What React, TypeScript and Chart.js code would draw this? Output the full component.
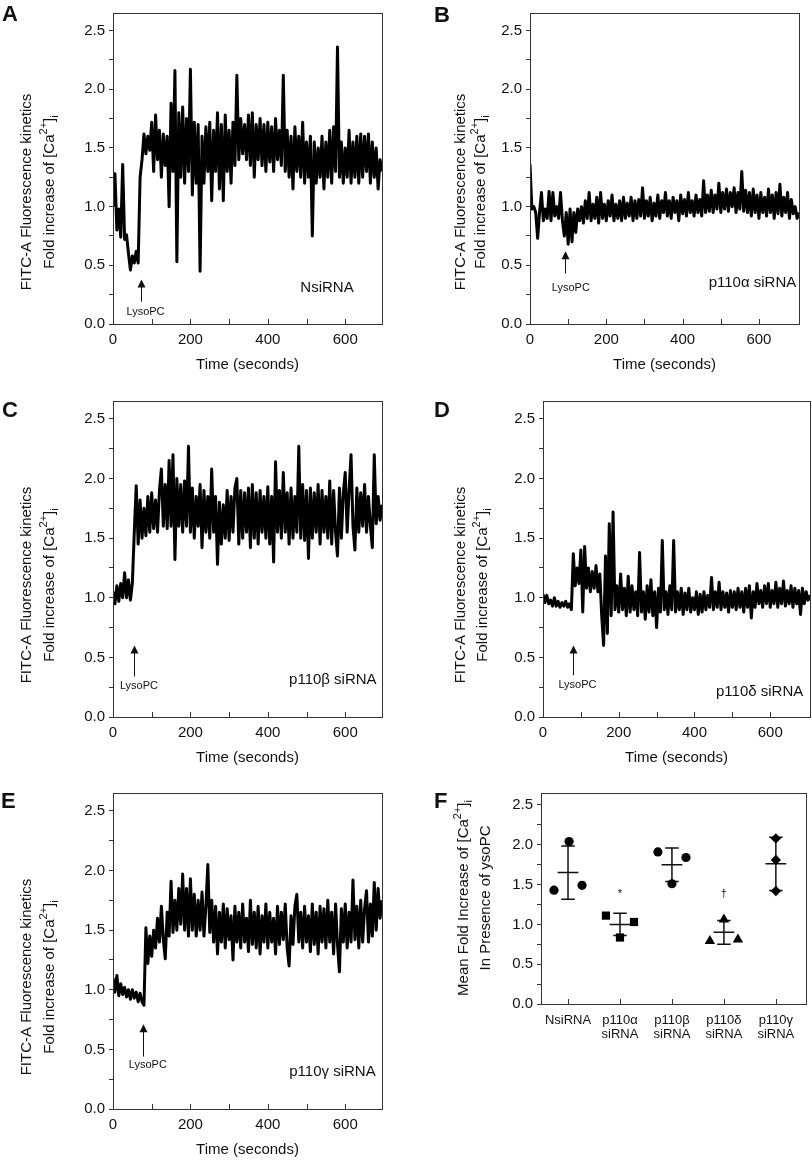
import React, { useEffect, useRef } from 'react';
import { Chart, registerables } from 'chart.js';

Chart.register(...registerables);

// ---------------- DATA ----------------
const SAMPLE_STEP_S = 5;
const TIME_TICKS = [0, 100, 200, 300, 400, 500, 600];
const TIME_TICK_LABELS = [0, 200, 400, 600];
const Y_TICKS = [0, 0.25, 0.5, 0.75, 1, 1.25, 1.5, 1.75, 2, 2.25, 2.5];
const Y_TICK_LABELS = [0, 0.5, 1, 1.5, 2, 2.5];

// Panel A – NsiRNA, fold increase sampled every 5 s from t = 0
const NSI_TRACE = [
  1.0, 1.28, 0.8, 0.98, 0.74, 1.36, 0.72, 0.76, 0.6, 0.46,
  0.58, 0.52, 0.62, 0.52, 1.25, 1.4, 1.62, 1.45, 1.6, 1.48,
  1.72, 1.3, 1.78, 1.4, 1.65, 1.25, 1.62, 1.35, 1.6, 1.0,
  1.88, 1.3, 2.16, 0.53, 1.8, 1.25, 1.85, 1.2, 1.75, 1.3,
  2.17, 1.1, 1.72, 1.2, 1.7, 0.45, 1.6, 1.2, 1.68, 1.3,
  1.72, 1.05, 1.65, 1.3, 1.8, 1.15, 1.7, 1.05, 1.78, 1.3,
  1.65, 1.2, 1.72, 1.35, 2.12, 1.4, 1.75, 1.45, 1.7, 1.4,
  1.78, 1.35, 1.8, 1.25, 1.7, 1.4, 1.75, 1.35, 1.7, 1.3,
  1.72, 1.38, 1.68, 1.3, 1.75, 1.4, 1.65, 1.35, 2.12, 1.3,
  1.65, 1.25, 1.6, 1.15, 1.68, 1.3, 1.6, 1.25, 1.72, 1.2,
  1.55, 1.25, 1.6, 0.75, 1.55, 1.2, 1.5, 1.25, 1.6, 1.15,
  1.55, 1.25, 1.65, 1.2, 1.68, 1.3, 2.36, 1.25, 1.55, 1.2,
  1.5, 1.25, 1.65, 1.2, 1.55, 1.25, 1.6, 1.2, 1.62, 1.25,
  1.6, 1.3, 1.62, 1.2, 1.55, 1.25, 1.5, 1.15, 1.4, 1.3,
];

// Panel B – p110α siRNA
const P110A_TRACE = [
  1.36, 0.98, 1.0, 0.95, 0.73, 0.95, 1.12, 0.88, 0.98, 0.9,
  1.13, 0.88, 1.12, 0.92, 1.0, 0.9, 1.12, 0.88, 0.75, 0.95,
  0.68, 0.98, 0.7, 0.95, 0.78, 0.98, 0.88, 1.0, 0.86, 1.05,
  0.9, 1.12, 0.88, 1.02, 0.9, 1.08, 0.86, 1.12, 0.9, 1.02,
  0.88, 1.05, 0.92, 1.1, 0.88, 1.02, 0.9, 1.05, 0.88, 1.08,
  0.9, 1.03, 0.92, 1.08, 0.88, 1.05, 0.9, 1.06, 0.92, 1.16,
  0.9, 1.05, 0.92, 1.08, 0.88, 1.03, 0.92, 1.1, 0.9, 1.05,
  0.95, 1.12, 0.92, 1.05, 0.9, 1.08, 0.95, 1.05, 0.88, 1.1,
  0.94, 1.06, 0.92, 1.12, 0.95, 1.05, 0.92, 1.1, 0.95, 1.06,
  0.92, 1.22, 0.95, 1.1, 0.96, 1.14, 0.95, 1.1, 0.98, 1.2,
  0.95, 1.12, 0.98, 1.15, 0.96, 1.12, 1.0, 1.16, 0.95, 1.12,
  0.98, 1.3, 0.96, 1.14, 0.95, 1.12, 0.92, 1.15, 0.95, 1.1,
  0.9, 1.12, 0.95, 1.08, 0.92, 1.15, 0.95, 1.1, 0.9, 1.12,
  0.94, 1.19, 0.92, 1.08, 0.95, 1.12, 0.9, 1.06, 0.94, 1.0,
  0.9, 0.95,
];

// Panel C – p110β siRNA
const P110B_TRACE = [
  1.05, 0.95, 1.1, 0.97, 1.12, 1.0, 1.21, 1.0, 1.15, 0.98,
  1.12, 1.55, 1.94, 1.45, 1.82, 1.5, 1.75, 1.52, 1.85, 1.55,
  1.88, 1.58, 1.82, 1.55, 1.9, 2.08, 1.6, 1.95, 1.58, 2.15,
  1.6, 2.2, 1.32, 2.0, 1.6, 1.95, 1.55, 1.98, 1.6, 2.27,
  1.55, 1.92, 1.5, 1.85, 1.6, 1.95, 1.42, 1.9, 1.55, 1.85,
  1.5, 2.08, 1.55, 1.85, 1.28, 1.8, 1.45, 1.78, 1.5, 1.9,
  1.48, 1.85, 1.55, 1.92, 2.0, 1.45, 1.9, 1.5, 1.88, 1.55,
  1.92, 1.42, 1.95, 1.5, 1.88, 1.45, 1.9, 1.55, 1.85, 1.5,
  1.93, 1.45, 1.85, 1.3, 2.14, 1.55, 1.9, 1.5, 2.05, 1.55,
  1.88, 1.45, 1.92, 1.5, 1.85, 1.55, 2.27, 1.5, 1.95, 1.48,
  1.9, 1.33, 1.92, 1.5, 1.88, 1.55, 1.95, 1.45, 1.9, 1.55,
  1.85, 1.5, 1.98, 1.45, 1.9, 1.55, 1.35, 1.92, 1.5, 1.88,
  2.05, 1.55, 1.9, 2.2, 1.6, 1.4, 1.92, 1.55, 1.88, 1.6,
  1.95, 1.55, 1.85, 1.6, 1.42, 2.2, 1.62, 1.85, 1.65, 1.78,
];

// Panel D – p110δ siRNA
const P110D_TRACE = [
  1.03, 0.96, 1.02, 0.95, 0.98, 0.93, 1.0, 0.93, 0.97, 0.92,
  0.96, 0.93, 0.97, 0.92, 0.95, 0.9, 1.37, 1.1, 1.25, 1.12,
  1.4, 0.88, 1.43, 1.08, 1.25, 1.05, 1.22, 1.08, 1.27, 1.05,
  1.2, 0.85, 0.6, 1.35, 0.7, 1.62, 0.85, 1.72, 0.9, 1.1,
  0.88, 1.2, 0.9, 1.08, 0.85, 1.18, 0.88, 1.1, 0.9, 1.05,
  0.85, 1.38, 0.88, 1.05, 0.82, 1.1, 0.88, 1.15, 0.85, 1.05,
  0.75, 1.08, 0.88, 1.48, 0.9, 1.05, 0.86, 1.1, 0.9, 1.48,
  0.88, 1.05, 0.9, 1.08, 0.86, 1.04, 0.9, 1.08, 0.88, 1.0,
  0.9, 1.05, 0.86, 1.03, 0.88, 1.05, 0.9, 1.02, 0.92, 1.17,
  0.9, 1.05, 0.92, 1.13, 0.9, 1.05, 0.92, 1.04, 0.88, 1.06,
  0.92, 1.05, 0.9, 1.08, 0.92, 1.05, 0.88, 1.08, 0.92, 1.1,
  0.83, 1.05, 0.92, 1.12, 0.95, 1.06, 0.92, 1.1, 0.95, 1.12,
  0.92, 1.06, 0.95, 1.13, 0.92, 1.08, 0.95, 1.14, 0.93, 1.06,
  0.95, 1.1, 0.92, 1.08, 0.95, 1.06, 0.86, 1.08, 0.95, 1.05,
  0.98, 1.02,
];

// Panel E – p110γ siRNA
const P110G_TRACE = [
  1.1, 0.98, 1.12, 0.95, 1.05, 0.96, 1.02, 0.94, 1.0, 0.92,
  1.0, 0.93, 0.98, 0.9, 0.97, 0.9, 0.87, 1.52, 1.22, 1.45,
  1.28, 1.5, 1.35, 1.6, 1.4, 1.7, 1.42, 1.26, 1.65, 1.45,
  1.91, 1.48, 1.75, 1.5, 1.85, 1.55, 1.97, 1.5, 1.85, 1.45,
  1.93, 1.5, 1.8, 1.45, 1.75, 1.5, 1.82, 1.45, 1.7, 2.05,
  1.48, 1.75, 1.4, 1.7, 1.3, 1.65, 1.4, 1.72, 1.35, 1.68,
  1.42, 1.62, 1.25, 1.7, 1.4, 1.65, 1.35, 1.72, 1.4, 1.6,
  1.32, 1.75, 1.38, 1.65, 1.35, 1.7, 1.3, 1.62, 1.4, 1.72,
  1.35, 1.65, 1.4, 1.6, 1.3, 1.7, 1.38, 1.65, 1.42, 1.72,
  1.35, 1.2, 1.62, 1.38, 1.7, 1.8, 1.4, 1.65, 1.35, 1.7,
  1.4, 1.62, 1.32, 1.72, 1.38, 1.65, 1.3, 1.7, 1.4, 1.68,
  1.35, 1.75, 1.4, 1.65, 1.3, 1.72, 1.38, 1.15, 1.68, 1.4,
  1.72, 1.35, 1.65, 1.4, 1.92, 1.42, 1.7, 1.35, 1.75, 1.4,
  1.68, 1.83, 1.4, 1.72, 1.45, 1.9, 1.5, 1.85, 1.6, 1.75,
];

// Panel F – mean fold increase per siRNA (3 replicates each)
const F_CATEGORIES = ['NsiRNA', 'p110α siRNA', 'p110β siRNA', 'p110δ siRNA', 'p110γ siRNA'];
const F_TICK_LABELS = [['NsiRNA'], ['p110α', 'siRNA'], ['p110β', 'siRNA'], ['p110δ', 'siRNA'], ['p110γ', 'siRNA']];
const F_NSI = [1.43, 2.04, 1.49];
const F_ALPHA = [1.11, 0.835, 1.03];
const F_BETA = [1.91, 1.51, 1.84];
const F_DELTA = [0.79, 1.06, 0.81];
const F_GAMMA = [2.08, 1.81, 1.42];
const F_MEAN = [1.65, 1.0, 1.75, 0.9, 1.76];
const F_SD = [0.335, 0.14, 0.21, 0.15, 0.335];
const F_MARKS = ['', '*', '', '†', ''];

// ---------------- STYLE / LAYOUT ----------------
const PAGE_W = 812;
const PAGE_H = 1161;
const FONT = '"Liberation Sans", Arial, Helvetica, sans-serif';
const INK = '#111';
const AXIS = '#333';
const Y_W = 40;
const X_H = 40;
const Y_MAX = 2.65;
const TRACE_WIDTH = 3.0;

type Run = { text: string; kind?: 'sup' | 'sub' };
const Y_TITLE_TRACE: Run[][] = [
  [{ text: 'FITC-A Fluorescence kinetics' }],
  [{ text: 'Fold increase of [Ca' }, { text: '2+', kind: 'sup' }, { text: ']' }, { text: 'i', kind: 'sub' }],
];
const Y_TITLE_F: Run[][] = [
  [{ text: 'Mean Fold Increase of [Ca' }, { text: '2+', kind: 'sup' }, { text: ']' }, { text: 'i', kind: 'sub' }],
  [{ text: 'In Presence of ysoPC' }],
];

const TRACE_PANELS = [
  { letter: 'A', letterPos: [2, 21], box: { l: 113, t: 8, r: 382, b: 324 }, xMax: 695, values: NSI_TRACE,
    condition: 'NsiRNA', condPos: [553, 0.31], arrow: { t: 73, tip: 0.38, tail: 0.19 }, lyso: [84, 0.1],
    yTitleX: [27, 50], yTitleCY: 192 },
  { letter: 'B', letterPos: [434, 22], box: { l: 530, t: 8, r: 799, b: 324 }, xMax: 705, values: P110A_TRACE,
    condition: 'p110α siRNA', condPos: [583, 0.35], arrow: { t: 93, tip: 0.62, tail: 0.43 }, lyso: [107, 0.31],
    yTitleX: [461, 481], yTitleCY: 192 },
  { letter: 'C', letterPos: [2, 417], box: { l: 113, t: 401, r: 382, b: 717 }, xMax: 695, values: P110B_TRACE,
    condition: 'p110β siRNA', condPos: [568, 0.31], arrow: { t: 55, tip: 0.6, tail: 0.34 }, lyso: [67, 0.26],
    yTitleX: [27, 50], yTitleCY: 585 },
  { letter: 'D', letterPos: [434, 417], box: { l: 543, t: 401, r: 810, b: 717 }, xMax: 705, values: P110D_TRACE,
    condition: 'p110δ siRNA', condPos: [572, 0.21], arrow: { t: 78, tip: 0.6, tail: 0.35 }, lyso: [91, 0.27],
    yTitleX: [461, 483], yTitleCY: 585 },
  { letter: 'E', letterPos: [1, 808], box: { l: 113, t: 793, r: 382, b: 1109 }, xMax: 695, values: P110G_TRACE,
    condition: 'p110γ siRNA', condPos: [567, 0.31], arrow: { t: 78, tip: 0.71, tail: 0.44 }, lyso: [90, 0.37],
    yTitleX: [27, 50], yTitleCY: 977 },
];

const F_PANEL = { letter: 'F', letterPos: [434, 808], box: { l: 541, t: 793, r: 809, b: 1004 },
  yTitleX: [464, 486], yTitleCY: 898 };
const F_X_MIN = -0.52;
const F_X_MAX = 4.58;
const F_JITTER = [[-0.27, 0.02, 0.27], [-0.27, 0, 0.27], [-0.27, 0, 0.27], [-0.27, 0, 0.27], [0, 0, 0]];
const F_STYLES = ['circle', 'rect', 'circle', 'triangle', 'rectRot'];
const F_RADII = [4.6, 5.8, 4.6, 6, 5.2];
const F_MEAN_HALF = 0.2;
const F_CAP_HALF = 0.13;

// ---------------- DRAW HELPERS ----------------
function drawRich(ctx: CanvasRenderingContext2D, runs: Run[], cx: number, cy: number, size: number, rotate: boolean) {
  ctx.save();
  ctx.translate(cx, cy);
  if (rotate) ctx.rotate(-Math.PI / 2);
  const small = Math.round(size * 0.7);
  const widths = runs.map((r) => {
    ctx.font = `${r.kind ? small : size}px ${FONT}`;
    return ctx.measureText(r.text).width;
  });
  const total = widths.reduce((a, b) => a + b, 0);
  let x = -total / 2;
  ctx.textAlign = 'left';
  ctx.textBaseline = 'middle';
  ctx.fillStyle = INK;
  runs.forEach((r, i) => {
    ctx.font = `${r.kind ? small : size}px ${FONT}`;
    const dy = r.kind === 'sup' ? -size * 0.4 : r.kind === 'sub' ? size * 0.32 : 0;
    ctx.fillText(r.text, x, dy);
    x += widths[i];
  });
  ctx.restore();
}

const decorPlugin = {
  id: 'decor',
  afterDraw(chart: any, _args: any, opts: any) {
    const ctx: CanvasRenderingContext2D = chart.ctx;
    const a = chart.chartArea;
    const xs = chart.scales.x;
    const ys = chart.scales.y;
    ctx.save();
    // frame
    ctx.strokeStyle = AXIS;
    ctx.lineWidth = 1;
    ctx.strokeRect(Math.round(a.left) + 0.5, Math.round(a.top) + 0.5, Math.round(a.right - a.left), Math.round(a.bottom - a.top));
    // inward x ticks
    ctx.beginPath();
    xs.ticks.forEach((t: any) => {
      const px = Math.round(xs.getPixelForValue(t.value)) + 0.5;
      ctx.moveTo(px, a.bottom);
      ctx.lineTo(px, a.bottom - 5);
    });
    ctx.stroke();
    // panel letter
    ctx.fillStyle = INK;
    ctx.font = `bold 22px ${FONT}`;
    ctx.textAlign = 'left';
    ctx.textBaseline = 'alphabetic';
    ctx.fillText(opts.letter, opts.letterPos[0], opts.letterPos[1]);
    // y titles
    opts.yTitle.forEach((runs: Run[], i: number) => drawRich(ctx, runs, opts.yTitleX[i], opts.yTitleCY, 15, true));
    // x title
    if (opts.xTitle) {
      ctx.fillStyle = INK;
      ctx.font = `15px ${FONT}`;
      ctx.textAlign = 'center';
      ctx.textBaseline = 'middle';
      ctx.fillText(opts.xTitle, (a.left + a.right) / 2, a.bottom + 41);
    }
    // condition label
    if (opts.condition) {
      ctx.font = `15px ${FONT}`;
      ctx.textAlign = 'center';
      ctx.textBaseline = 'middle';
      ctx.fillText(opts.condition, xs.getPixelForValue(opts.condPos[0]), ys.getPixelForValue(opts.condPos[1]));
    }
    // LysoPC arrow
    if (opts.arrow) {
      const px = Math.round(xs.getPixelForValue(opts.arrow.t)) + 0.5;
      const tip = ys.getPixelForValue(opts.arrow.tip);
      const tail = ys.getPixelForValue(opts.arrow.tail);
      ctx.strokeStyle = INK;
      ctx.lineWidth = 1;
      ctx.beginPath();
      ctx.moveTo(px, tail);
      ctx.lineTo(px, tip + 6);
      ctx.stroke();
      ctx.beginPath();
      ctx.moveTo(px, tip);
      ctx.lineTo(px - 4, tip + 8);
      ctx.lineTo(px + 4, tip + 8);
      ctx.closePath();
      ctx.fill();
      ctx.font = `11px ${FONT}`;
      ctx.textAlign = 'center';
      ctx.textBaseline = 'middle';
      ctx.fillText('LysoPC', xs.getPixelForValue(opts.lyso[0]), ys.getPixelForValue(opts.lyso[1]));
    }
    // significance marks
    if (opts.marks) {
      ctx.font = `11px ${FONT}`;
      ctx.textAlign = 'center';
      ctx.textBaseline = 'middle';
      opts.marks.forEach((m: string, i: number) => {
        if (m) ctx.fillText(m, xs.getPixelForValue(i), ys.getPixelForValue(1.38));
      });
    }
    ctx.restore();
  },
};

function yScale() {
  return {
    type: 'linear',
    min: 0,
    max: Y_MAX,
    afterFit: (s: any) => { s.width = Y_W; },
    afterBuildTicks: (s: any) => { s.ticks = Y_TICKS.map((value) => ({ value })); },
    grid: { drawOnChartArea: false, drawTicks: true, tickLength: 4, color: AXIS, lineWidth: 1 },
    border: { display: true, color: AXIS, width: 1 },
    ticks: {
      autoSkip: false,
      padding: 4,
      color: INK,
      font: { family: FONT, size: 15 },
      callback: (v: any) => {
        const n = Number(v);
        return Y_TICK_LABELS.some((l) => Math.abs(l - n) < 1e-6) ? n.toFixed(1) : '';
      },
    },
  };
}

function padding(box: any) {
  return { left: box.l - Y_W, top: box.t, right: PAGE_W - box.r, bottom: PAGE_H - box.b - X_H };
}

function traceConfig(p: any) {
  return {
    type: 'line',
    data: {
      datasets: [{
        data: p.values.map((v: number, i: number) => ({ x: i * SAMPLE_STEP_S, y: v })),
        borderColor: '#000',
        borderWidth: TRACE_WIDTH,
        borderJoinStyle: 'round',
        pointRadius: 0,
        tension: 0,
      }],
    },
    options: {
      responsive: false,
      animation: false,
      devicePixelRatio: 1,
      layout: { padding: padding(p.box) },
      plugins: {
        legend: { display: false },
        tooltip: { enabled: false },
        decor: {
          letter: p.letter, letterPos: p.letterPos, yTitle: Y_TITLE_TRACE, yTitleX: p.yTitleX, yTitleCY: p.yTitleCY,
          xTitle: 'Time (seconds)', condition: p.condition, condPos: p.condPos, arrow: p.arrow, lyso: p.lyso,
        },
      },
      scales: {
        x: {
          type: 'linear',
          min: 0,
          max: p.xMax,
          afterFit: (s: any) => { s.height = X_H; },
          afterBuildTicks: (s: any) => { s.ticks = TIME_TICKS.map((value) => ({ value })); },
          grid: { drawOnChartArea: false, drawTicks: false },
          border: { display: true, color: AXIS, width: 1 },
          ticks: {
            autoSkip: false,
            maxRotation: 0,
            padding: 7,
            color: INK,
            font: { family: FONT, size: 15 },
            callback: (v: any) => {
              const n = Number(v);
              return TIME_TICK_LABELS.some((l) => Math.abs(l - n) < 1e-6) ? String(Math.round(n)) : '';
            },
          },
        },
        y: yScale(),
      },
    },
    plugins: [decorPlugin],
  };
}

function summaryConfig() {
  const groups = [F_NSI, F_ALPHA, F_BETA, F_DELTA, F_GAMMA];
  const pointSets = groups.map((vals, gi) => ({
    type: 'scatter',
    label: F_CATEGORIES[gi],
    data: vals.map((v, k) => ({ x: gi + F_JITTER[gi][k], y: v })),
    pointStyle: F_STYLES[gi],
    pointRadius: F_RADII[gi],
    backgroundColor: '#000',
    borderColor: '#000',
    borderWidth: 0,
  }));
  const bars: any[] = [];
  F_MEAN.forEach((m, i) => {
    const hi = m + F_SD[i];
    const lo = m - F_SD[i];
    bars.push({ x: i - F_MEAN_HALF, y: m }, { x: i + F_MEAN_HALF, y: m }, { x: i, y: null });
    bars.push({ x: i, y: lo }, { x: i, y: hi }, { x: i, y: null });
    bars.push({ x: i - F_CAP_HALF, y: hi }, { x: i + F_CAP_HALF, y: hi }, { x: i, y: null });
    bars.push({ x: i - F_CAP_HALF, y: lo }, { x: i + F_CAP_HALF, y: lo }, { x: i, y: null });
  });
  return {
    type: 'scatter',
    data: {
      datasets: [
        ...pointSets,
        {
          type: 'line',
          label: 'mean ± SD',
          data: bars,
          borderColor: '#111',
          borderWidth: 1.5,
          pointRadius: 0,
          spanGaps: false,
          tension: 0,
        },
      ],
    },
    options: {
      responsive: false,
      animation: false,
      devicePixelRatio: 1,
      layout: { padding: padding(F_PANEL.box) },
      plugins: {
        legend: { display: false },
        tooltip: { enabled: false },
        decor: {
          letter: F_PANEL.letter, letterPos: F_PANEL.letterPos, yTitle: Y_TITLE_F, yTitleX: F_PANEL.yTitleX,
          yTitleCY: F_PANEL.yTitleCY, marks: F_MARKS,
        },
      },
      scales: {
        x: {
          type: 'linear',
          min: F_X_MIN,
          max: F_X_MAX,
          afterFit: (s: any) => { s.height = X_H; },
          afterBuildTicks: (s: any) => { s.ticks = F_TICK_LABELS.map((_l, i) => ({ value: i })); },
          grid: { drawOnChartArea: false, drawTicks: false },
          border: { display: true, color: AXIS, width: 1 },
          ticks: {
            autoSkip: false,
            maxRotation: 0,
            padding: 9,
            color: INK,
            font: { family: FONT, size: 13, lineHeight: 1.1 },
            callback: (v: any) => F_TICK_LABELS[Math.round(Number(v))] ?? '',
          },
        },
        y: yScale(),
      },
    },
    plugins: [decorPlugin],
  };
}

function ChartLayer({ make }: { make: () => any }) {
  const ref = useRef<HTMLCanvasElement>(null);
  useEffect(() => {
    const chart = new Chart(ref.current as HTMLCanvasElement, make());
    return () => chart.destroy();
  }, [make]);
  return (
    <canvas
      ref={ref}
      width={PAGE_W}
      height={PAGE_H}
      style={{ position: 'absolute', left: 0, top: 0, width: PAGE_W, height: PAGE_H }}
    />
  );
}

const MAKERS = [...TRACE_PANELS.map((p) => () => traceConfig(p)), () => summaryConfig()];

export default function App() {
  return (
    <div style={{ position: 'absolute', left: 0, top: 0, width: PAGE_W, height: PAGE_H, background: '#fff', overflow: 'hidden' }}>
      {MAKERS.map((m, i) => (
        <ChartLayer key={i} make={m} />
      ))}
    </div>
  );
}
